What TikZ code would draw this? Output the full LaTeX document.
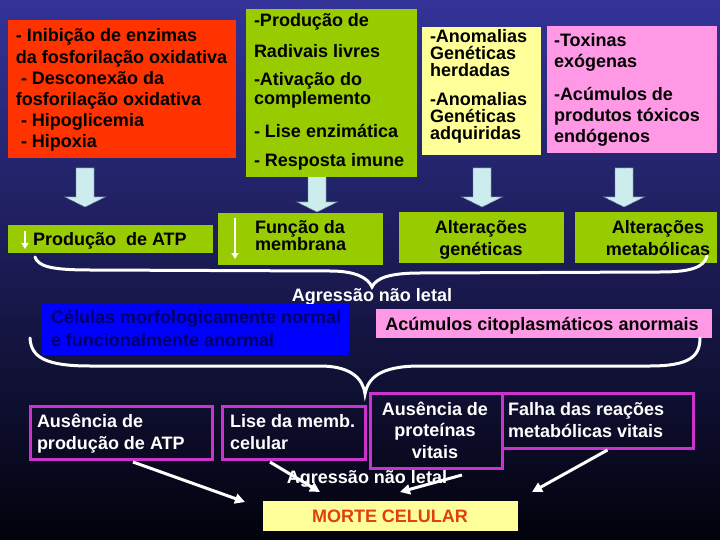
\documentclass[tikz,border=0pt]{standalone}
\usepackage{fontspec}
\setmainfont{Liberation Sans}
\usetikzlibrary{arrows.meta,calc}
\definecolor{bgtop}{RGB}{51,51,153}
\definecolor{bgmid}{RGB}{36,36,108}
\definecolor{bgbot}{RGB}{2,2,12}
\definecolor{redc}{RGB}{255,51,0}
\definecolor{greenc}{RGB}{153,204,0}
\definecolor{yellowc}{RGB}{255,255,153}
\definecolor{pinkc}{RGB}{255,153,230}
\definecolor{bluec}{RGB}{0,0,255}
\definecolor{navytext}{RGB}{0,0,102}
\definecolor{magc}{RGB}{204,51,204}
\definecolor{arrfill}{RGB}{204,236,238}
\definecolor{arrdraw}{RGB}{110,140,160}
\definecolor{mortec}{RGB}{224,64,16}
\begin{document}
\begin{tikzpicture}[x=1pt,y=-1pt,
  every node/.style={inner sep=0pt, outer sep=0pt},
  boxnode/.style={anchor=north west, draw=none},
  magbox/.style={anchor=north west, draw=magc, line width=3pt},
  txtl/.style={anchor=base west, align=left},
  txtc/.style={anchor=base, align=center},
  fnt/.style={font=\bfseries\fontsize{18}{#1}\selectfont},
  brace/.style={draw=white, line width=3pt, line cap=round},
  warrow/.style={draw=white, line width=3pt, -{Triangle[length=10pt,width=10pt]}},
  smallarrow/.style={draw=white, line width=2pt, -{Triangle[length=6pt,width=7pt]}},
  blockarrow/.pic={\path[fill=arrfill, draw=arrdraw, densely dotted, line width=0.8pt]
     (-9,0) -- (9,0) -- (9,29) -- (20,29) -- (0,39) -- (-20,29) -- (-9,29) -- cycle;}
]
% background
\shade[top color=bgtop, middle color=bgmid, bottom color=bgbot] (0,0) rectangle (720,540);
\useasboundingbox (0,0) rectangle (720,540);

% block arrows
\pic at (85,168) {blockarrow};
\pic at (317,173) {blockarrow};
\pic at (482,168) {blockarrow};
\pic at (624,168) {blockarrow};

% top boxes
\node[boxnode, fill=redc, minimum width=228pt, minimum height=138pt] (red) at (8,20) {};
\node[boxnode, fill=greenc, minimum width=171pt, minimum height=168pt] (green) at (246,9) {};
\node[boxnode, fill=yellowc, minimum width=119pt, minimum height=128pt] (yellow) at (422,27) {};
\node[boxnode, fill=pinkc, minimum width=170pt, minimum height=127pt] (pink) at (547,26) {};

% (base anchor = baseline of the last line)
\node[txtl, fnt=21.2] (redtxt) at (16,148) {- Inibição de enzimas\\da fosforilação oxidativa\\\ - Desconexão da\\fosforilação oxidativa\\\ - Hipoglicemia\\\ - Hipoxia};
\node[txtl, fnt=19] (greentxt) at (254,167) {-Produção de\\[12pt]Radivais livres\\[9pt]-Ativação do\\complemento\\[14pt]- Lise enzimática\\[10pt]- Resposta imune};
\node[txtl, fnt=17] (yellowtxt) at (430,140) {-Anomalias\\Genéticas\\herdadas\\[12pt]-Anomalias\\Genéticas\\adquiridas};
\node[txtl, fnt=21] (pinktxt) at (554,143) {-Toxinas\\exógenas\\[12pt]-Acúmulos de\\produtos tóxicos\\endógenos};

% second row
\node[boxnode, fill=greenc, minimum width=205pt, minimum height=28pt] (atp) at (8,225) {};
\node[boxnode, fill=greenc, minimum width=165pt, minimum height=52pt] (memb) at (218,213) {};
\node[boxnode, fill=greenc, minimum width=165pt, minimum height=51pt] (gen) at (399,212) {};
\node[boxnode, fill=greenc, minimum width=142pt, minimum height=51pt] (meta) at (575,212) {};

\node[txtl, fnt=21] (atptxt) at (33,245) {Produção\ \ de ATP};
\node[txtl, fnt=17] (membtxt) at (255,250) {Função da\\membrana};
\node[txtc, fnt=22] (gentxt) at (481,255) {Alterações\\genéticas};
\node[txtc, fnt=22] (metatxt) at (658,255) {Alterações\\metabólicas};
\draw[smallarrow] (25,231) -- (25,249);
\draw[smallarrow] (235,218) -- (235,259);

% brace 1
\draw[brace] (35,257) .. controls (38,266) and (50,270) .. (90,270) -- (330,271)
  .. controls (356,271) and (368,278) .. (372,287)
  .. controls (376,278) and (390,273) .. (420,273) -- (660,272)
  .. controls (692,272) and (704,267) .. (707,256);
\node[txtc, fnt=21, text=white] (agr1) at (372,301) {Agressão não letal};

% middle boxes
\node[boxnode, fill=bluec, minimum width=307pt, minimum height=51pt] (blue) at (42,304) {};
\node[boxnode, fill=pinkc, minimum width=336pt, minimum height=29pt] (pink2) at (376,309) {};
\node[txtl, fnt=23, text=navytext] (bluetxt) at (51,346) {Células morfologicamente normal\\e funcionalmente anormal};
\node[txtc, fnt=21] (pink2txt) at (542,330) {Acúmulos citoplasmáticos anormais};

% brace 2
\draw[brace] (30,338) .. controls (31,357) and (45,366) .. (90,366) -- (320,366)
  .. controls (350,366) and (363,378) .. (365,394)
  .. controls (368,378) and (380,366) .. (420,366) -- (650,366)
  .. controls (690,366) and (700,356) .. (700,338);

% bottom boxes
\node[magbox, minimum width=182pt, minimum height=53pt] (b1) at (30,406) {};
\node[magbox, minimum width=143pt, minimum height=53pt] (b2) at (222,406) {};
\node[magbox, minimum width=132pt, minimum height=75pt] (b3) at (370,393) {};
\node[magbox, minimum width=191pt, minimum height=55pt] (b4) at (502,393) {};
\node[txtl, fnt=22, text=white] (b1txt) at (37,449) {Ausência de\\produção de ATP};
\node[txtl, fnt=22, text=white] (b2txt) at (230,449) {Lise da memb.\\celular};
\node[txtc, fnt=21.5, text=white] (b3txt) at (435,458) {Ausência de\\proteínas\\vitais};
\node[txtl, fnt=22, text=white] (b4txt) at (508,437) {Falha das reações\\metabólicas vitais};

% morte
\node[boxnode, fill=yellowc, minimum width=255pt, minimum height=30pt] (morte) at (263,501) {};
\node[txtc, fnt=21, text=mortec] (mortetxt) at (390,522) {MORTE CELULAR};

% arrows to morte
\coordinate (m1) at (245,502);
\coordinate (m2) at (320,492);
\coordinate (m3) at (400,492);
\coordinate (m4) at (532,492);
\draw[warrow] ($(b1.south)+(12,3)$) -- (m1);
\draw[warrow] ($(b2.south)+(-23.5,3)$) -- (m2);
\draw[warrow] ($(b3.south)+(26,7)$) -- (m3);
\draw[warrow] ($(b4.south)+(10,2)$) -- (m4);

\node[txtc, fnt=21, text=white] (agr2) at (367,483) {Agressão não letal};
\end{tikzpicture}
\end{document}
